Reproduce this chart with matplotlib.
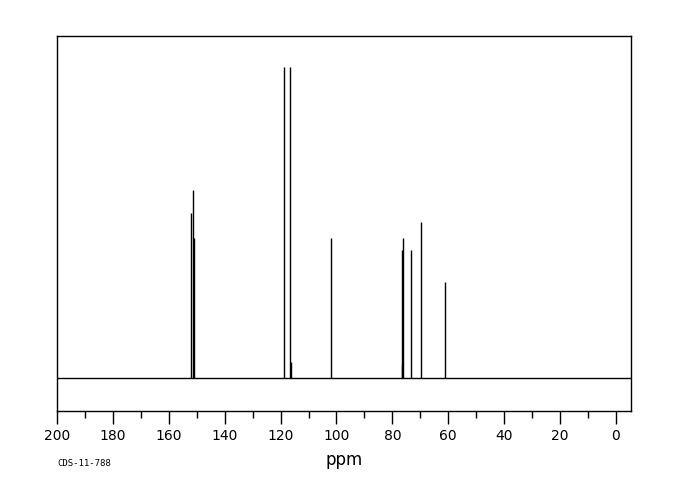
import matplotlib
matplotlib.use("Agg")
import matplotlib.pyplot as plt
from matplotlib.ticker import MultipleLocator

# peak positions (ppm) and heights (relative intensity)
shifts = [151.95, 151.2, 151.0, 118.8, 116.6, 116.4, 102.0,
          76.7, 76.5, 76.1, 73.45, 69.9, 61.1]
heights = [53.0, 60.5, 45.0, 100.0, 100.0, 5.0, 45.0,
           4.2, 41.2, 45.0, 41.2, 50.2, 30.9]
xticks = [200, 180, 160, 140, 120, 100, 80, 60, 40, 20, 0]

fig = plt.figure(figsize=(6.8, 5), dpi=100)
ax = fig.add_axes([57 / 680, 1 - 411 / 500, 574 / 680, 375 / 500])

ax.axhline(0, color="black", lw=1.0)
ax.vlines(shifts, 0, heights, color="black", lw=1.0)

ax.set_xlim(200, -5.4)
ax.set_ylim(-10.6, 110)
ax.set_xticks(xticks)
ax.set_xticklabels([str(t) for t in xticks], fontsize=10)
ax.xaxis.set_minor_locator(MultipleLocator(10))
ax.tick_params(axis="x", which="major", direction="out", length=9, width=1, pad=4)
ax.tick_params(axis="x", which="minor", direction="out", length=5, width=1)
ax.set_yticks([])
for s in ax.spines.values():
    s.set_linewidth(1.0)

ax.set_xlabel("ppm", fontsize=12, labelpad=6)
fig.text(57 / 680, 1 - 463 / 500, "CDS-11-788", fontsize=6.5,
         family="DejaVu Sans Mono", va="center")

fig.savefig("out.png", dpi=100)
